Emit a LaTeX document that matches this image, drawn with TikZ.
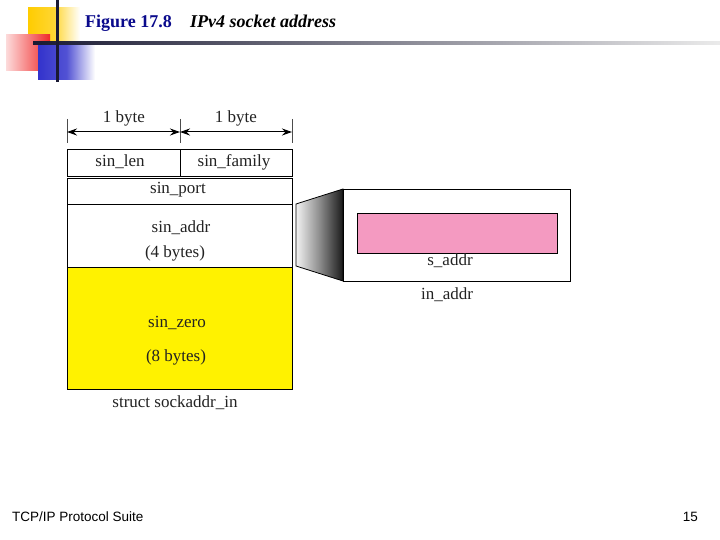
\documentclass[tikz,border=0pt]{standalone}
\usepackage{fontspec}
\setmainfont{Liberation Serif}
\newfontfamily\footfont{Liberation Sans}
\usetikzlibrary{arrows.meta}
\definecolor{titleblue}{HTML}{0A0A8C}
\definecolor{decoyellow}{HTML}{FFCC00}
\definecolor{decored}{HTML}{EE1111}
\definecolor{decoblue}{HTML}{3333CC}
\definecolor{decoline}{HTML}{1A1A33}
\definecolor{fieldyellow}{HTML}{FFF200}
\definecolor{fieldpink}{HTML}{F49AC1}
\definecolor{txt}{HTML}{222222}
\tikzset{
  field/.style={draw=black, line width=0.8pt, inner sep=0pt, fill=white},
  lbl/.style={text=txt, font=\fontsize{17}{19}\selectfont, inner sep=0pt},
  dimtick/.style={draw=black!70, line width=0.6pt},
  dimarrow/.style={line width=1pt, {Stealth[length=10pt,width=7pt]}-{Stealth[length=10pt,width=7pt]}}
}
\begin{document}
\begin{tikzpicture}[x=1pt,y=-1pt]
\useasboundingbox[fill=white] (0,0) rectangle (720,540);
% decoration
\shade[left color=decoyellow, right color=white, middle color=decoyellow!80] (28,8) rectangle (80,46);
\shade[left color=decored!15, right color=decored!90] (6,35) rectangle (50,71);
\shade[left color=decoblue, right color=white, middle color=decoblue!85] (38,45) rectangle (95,80);
\shade[left color=decoline, right color=black!8] (33,42) rectangle (720,45);
\fill[decoline] (56,0) rectangle (58.5,82);
% title
\node[anchor=base west, inner sep=0pt, text=titleblue, font=\bfseries\fontsize{18}{20}\selectfont] (figno) at (85,28) {Figure 17.8};
\node[anchor=base west, inner sep=0pt, font=\bfseries\itshape\fontsize{18}{20}\selectfont] (title) at (190,28) {IPv4 socket address};
% dimension lines
\coordinate (t1a) at (67,119); \coordinate (t1b) at (67,143);
\coordinate (t2a) at (180,119); \coordinate (t2b) at (180,143);
\coordinate (t3a) at (292,119); \coordinate (t3b) at (292,143);
\draw[dimtick] (t1a) -- (t1b);
\draw[dimtick] (t2a) -- (t2b);
\draw[dimtick] (t3a) -- (t3b);
\coordinate (a1) at (67,132); \coordinate (a2) at (180,132); \coordinate (a3) at (292,132);
\draw[dimarrow] (a1) -- (a2);
\draw[dimarrow] (a2) -- (a3);
\node[lbl] (b1) at (124,118) {1 byte};
\node[lbl] (b2) at (236,118) {1 byte};
% fields
\node[field, minimum width=113pt, minimum height=27pt] (len) at (123.5,162.5) {};
\node[field, minimum width=112pt, minimum height=27pt] (fam) at (236,162.5) {};
\node[field, minimum width=225pt, minimum height=26pt] (port) at (179.5,191) {};
\node[field, minimum width=225pt, minimum height=63pt] (addr) at (179.5,235.5) {};
\node[field, fill=fieldyellow, minimum width=225pt, minimum height=122pt] (zero) at (179.5,328) {};
\node[lbl] (lenT) at (120,162) {sin\_len};
\node[lbl] (famT) at (234,162) {sin\_family};
\node[lbl] (portT) at (178,190) {sin\_port};
\node[lbl] (addrT) at (181,228) {sin\_addr};
\node[lbl] (addrB) at (175,253) {(4 bytes)};
\node[lbl] (zeroT) at (177,323) {sin\_zero};
\node[lbl] (zeroB) at (176,357) {(8 bytes)};
\node[lbl] (struct) at (175,403) {struct sockaddr\_in};
% in_addr
\coordinate (tl) at (296,204); \coordinate (bl) at (296,266);
\coordinate (tr) at (343,189); \coordinate (br) at (343,281);
\shade[left color=black!5, right color=black!90, middle color=black!45, draw=black, line width=0.8pt] (tl) -- (tr) -- (br) -- (bl) -- cycle;
\node[field, minimum width=227pt, minimum height=92pt] (inaddr) at (456.5,235) {};
\node[field, fill=fieldpink, minimum width=200pt, minimum height=40pt] (saddr) at (457,233) {};
\node[lbl] (saddrT) at (450,261) {s\_addr};
\node[lbl] (inaddrT) at (447,295) {in\_addr};
% footer
\node[anchor=base west, inner sep=0pt, font=\footfont\fontsize{13.5}{15}\selectfont] (foot) at (12,521) {TCP/IP Protocol Suite};
\node[anchor=base east, inner sep=0pt, font=\footfont\fontsize{13.5}{15}\selectfont] (page) at (698,521) {15};
\end{tikzpicture}
\end{document}
